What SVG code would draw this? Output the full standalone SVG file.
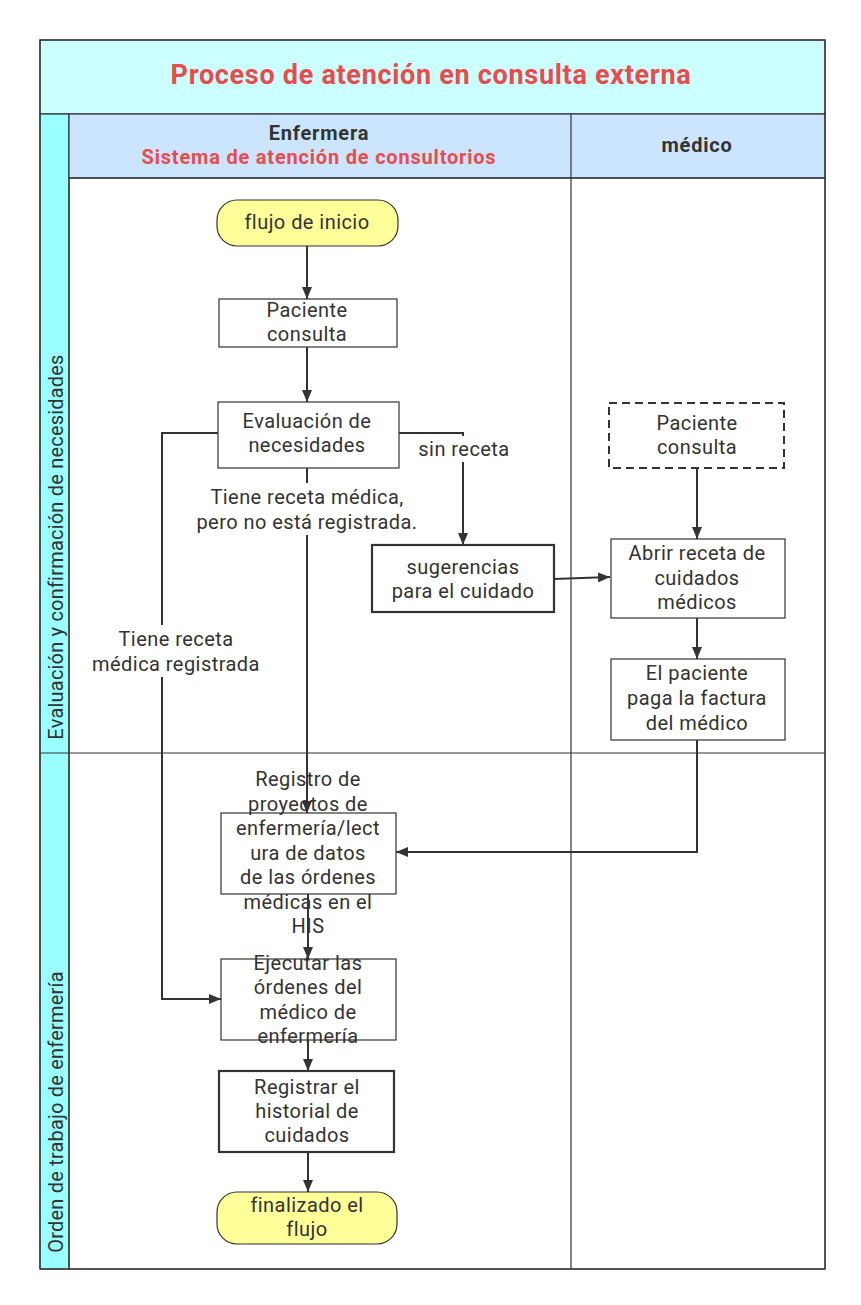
<svg xmlns="http://www.w3.org/2000/svg" width="861" height="1305" viewBox="0 0 861 1305">
<defs>
<marker id="ah" viewBox="0 0 12 10" refX="12" refY="5" markerWidth="12" markerHeight="10" markerUnits="userSpaceOnUse" orient="auto">
<path d="M0,0 L12,5 L0,10 Z" fill="#333"/>
</marker>
<style>
text{font-family:Roboto,"Noto Sans","Liberation Sans",sans-serif;fill:#333;}
.t{font-size:20px;text-anchor:middle;letter-spacing:0.45px;}
.r{font-size:20px;text-anchor:middle;letter-spacing:0.2px;}
.h{font-size:20px;font-weight:bold;text-anchor:middle;letter-spacing:0.8px;}
.box{fill:#fff;stroke:#333;stroke-width:1.2;}
.thick{fill:#fff;stroke:#333;stroke-width:2.2;}
.term{fill:#ffff99;stroke:#333;stroke-width:1.2;}
.arr{fill:none;stroke:#333;stroke-width:2;marker-end:url(#ah);}
.grid{fill:none;stroke:#333;stroke-width:1.2;}
.lbg{fill:#fff;}
</style>
</defs>
<rect width="861" height="1305" fill="#fff"/>
<g id="pool">
<rect x="40" y="40" width="785" height="74" fill="#ccffff" stroke="#333" stroke-width="1.2"/>
<text x="431" y="84" style="font-size:27px;font-weight:bold;text-anchor:middle;letter-spacing:0.7px;fill:#e84c4c">Proceso de atención en consulta externa</text>
<rect x="40" y="114" width="29" height="1155" fill="#99ffff" stroke="#333" stroke-width="1.2"/>
<rect x="69" y="114" width="756" height="64" fill="#cce5ff" stroke="#333" stroke-width="1.2"/>
<line class="grid" x1="571" y1="114" x2="571" y2="1269"/>
<rect class="grid" x="69" y="178" width="756" height="1091"/>
<line class="grid" x1="40" y1="753" x2="825" y2="753"/>
<rect class="grid" x="40" y="40" width="785" height="1229"/>
<text x="319" y="140" class="h">Enfermera<tspan x="319" dy="24" style="fill:#e84c4c">Sistema de atención de consultorios</tspan></text>
<text x="697" y="152" class="h">médico</text>
<text transform="translate(63,547) rotate(-90)" class="r">Evaluación y confirmación de necesidades</text>
<text transform="translate(63,1112) rotate(-90)" class="r">Orden de trabajo de enfermería</text>
</g>
<g id="connectors">
<line class="arr" x1="307" y1="246" x2="307" y2="299"/>
<line class="arr" x1="307" y1="347" x2="307" y2="402"/>
<polyline class="arr" points="218,433 162,433 162,999 221,999"/>
<polyline class="arr" points="399,433 463,433 463,545"/>
<line class="arr" x1="307" y1="468" x2="307" y2="813"/>
<line class="arr" x1="554" y1="579" x2="610" y2="577"/>
<line class="arr" x1="697" y1="468" x2="697" y2="539"/>
<line class="arr" x1="697" y1="618" x2="697" y2="659"/>
<polyline class="arr" points="697,740 697,852 396,852"/>
<line class="arr" x1="308" y1="894" x2="308" y2="959"/>
<line class="arr" x1="308" y1="1040" x2="308" y2="1071"/>
<line class="arr" x1="308" y1="1152" x2="308" y2="1192"/>
<rect class="lbg" x="413" y="436" width="102" height="26"/>
<text class="t" x="464" y="456">sin receta</text>
<rect class="lbg" x="191" y="483" width="233" height="52"/>
<text class="t" x="307" y="504">Tiene receta médica,<tspan x="307" dy="25">pero no está registrada.</tspan></text>
<rect class="lbg" x="101" y="625" width="152" height="52"/>
<text class="t" x="176" y="646">Tiene receta<tspan x="176" dy="25">médica registrada</tspan></text>
</g>
<g id="n_inicio">
<rect class="term" x="217" y="200" width="181" height="46" rx="20"/>
<text class="t" x="307" y="229">flujo de inicio</text>
</g>
<g id="n_paciente1">
<rect class="box" x="219" y="299" width="178" height="48"/>
<text class="t" x="307" y="317">Paciente<tspan x="307" dy="24">consulta</tspan></text>
</g>
<g id="n_evaluacion">
<rect class="box" x="218" y="402" width="181" height="66"/>
<text class="t" x="307" y="428">Evaluación de<tspan x="307" dy="24">necesidades</tspan></text>
</g>
<g id="n_sugerencias">
<rect class="thick" x="372" y="545" width="182" height="67"/>
<text class="t" x="463" y="574">sugerencias<tspan x="463" dy="24">para el cuidado</tspan></text>
</g>
<g id="n_paciente2">
<rect x="609" y="403" width="175" height="65" fill="#fff" stroke="#333" stroke-width="2" stroke-dasharray="8,5"/>
<text class="t" x="697" y="430">Paciente<tspan x="697" dy="24">consulta</tspan></text>
</g>
<g id="n_abrir">
<rect class="box" x="611" y="539" width="174" height="79"/>
<text class="t" x="697" y="560">Abrir receta de<tspan x="697" dy="24.5">cuidados</tspan><tspan x="697" dy="24.5">médicos</tspan></text>
</g>
<g id="n_paga">
<rect class="box" x="611" y="659" width="174" height="81"/>
<text class="t" x="697" y="680">El paciente<tspan x="697" dy="25">paga la factura</tspan><tspan x="697" dy="25">del médico</tspan></text>
</g>
<g id="n_registro">
<rect class="box" x="221" y="813" width="175" height="81"/>
<text class="t" x="308" y="786">Registro de<tspan x="308" dy="24.5">proyectos de</tspan><tspan x="308" dy="24.5">enfermería/lect</tspan><tspan x="308" dy="24.5">ura de datos</tspan><tspan x="308" dy="24.5">de las órdenes</tspan><tspan x="308" dy="24.5">médicas en el</tspan><tspan x="308" dy="24.5">HIS</tspan></text>
</g>
<g id="n_ejecutar">
<rect class="box" x="221" y="959" width="175" height="81"/>
<text class="t" x="308" y="970">Ejecutar las<tspan x="308" dy="24.3">órdenes del</tspan><tspan x="308" dy="24.3">médico de</tspan><tspan x="308" dy="24.3">enfermería</tspan></text>
</g>
<g id="n_registrar">
<rect class="thick" x="219" y="1071" width="175" height="81"/>
<text class="t" x="307" y="1094">Registrar el<tspan x="307" dy="24">historial de</tspan><tspan x="307" dy="24">cuidados</tspan></text>
</g>
<g id="n_fin">
<rect class="term" x="217" y="1192" width="180" height="52" rx="20"/>
<text class="t" x="307" y="1212">finalizado el<tspan x="307" dy="24">flujo</tspan></text>
</g>
</svg>
